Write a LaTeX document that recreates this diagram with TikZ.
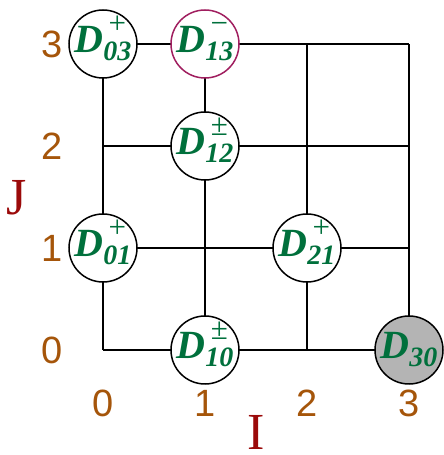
\documentclass[tikz,border=0pt]{standalone}
\usepackage{fontspec}
\setmainfont{Liberation Serif}
\newfontfamily\numfont{Liberation Sans}
\definecolor{dgreen}{RGB}{0,112,60}
\definecolor{dbrown}{RGB}{165,85,10}
\definecolor{dred}{RGB}{155,10,10}
\definecolor{dmag}{RGB}{160,30,95}
\definecolor{dgray}{RGB}{180,180,180}
\newsavebox\subbx
\newcommand\dlab[2]{\smash{\raisebox{-9pt}{%
 \sbox\subbx{\fontsize{28}{28}\selectfont\bfseries\itshape #1}%
 {\fontsize{40}{40}\selectfont\bfseries\itshape D}\raisebox{-8pt}{\usebox\subbx}%
 \hspace{-\wd\subbx}\makebox[\wd\subbx][c]{\raisebox{19pt}{\fontsize{31}{31}\selectfont #2}}}}}
\tikzset{
 gridline/.style={line width=1.5pt, black},
 dnode/.style={circle, draw=black, fill=white, line width=1.5pt, minimum size=68pt, inner sep=0pt, text=dgreen},
 numlab/.style={text=dbrown, font=\numfont\fontsize{38}{38}\selectfont, inner sep=0pt},
 axlab/.style={text=dred, font=\fontsize{52}{52}\selectfont, inner sep=0pt}
}
\begin{document}
\begin{tikzpicture}[x=1pt,y=1pt]
\useasboundingbox (0,0) rectangle (444,455);
% grid coordinates
\foreach \i/\xx in {0/103,1/205,2/307,3/409}{
  \foreach \j/\yy in {0/105,1/207,2/309,3/411}{
    \coordinate (g\i\j) at (\xx,\yy);
  }
}
% grid lines
\foreach \j in {0,1,2,3}{ \draw[gridline] (g0\j) -- (g3\j); }
\foreach \i in {0,1,2,3}{ \draw[gridline] (g\i0) -- (g\i3); }
% nodes
\node[dnode] (D03) at (g03) {\dlab{03}{+}};
\node[dnode, draw=dmag] (D13) at (g13) {\dlab{13}{−}};
\node[dnode] (D12) at (g12) {\dlab{12}{±}};
\node[dnode] (D01) at (g01) {\dlab{01}{+}};
\node[dnode] (D21) at (g21) {\dlab{21}{+}};
\node[dnode] (D10) at (g10) {\dlab{10}{±}};
\node[dnode, fill=dgray] (D30) at (g30) {\dlab{30}{}};
% axis numbers
\node[numlab] (l3) at (52,411) {3};
\node[numlab] (l2) at (52,309) {2};
\node[numlab] (l1) at (52,207) {1};
\node[numlab] (l0) at (52,105) {0};
\node[numlab] (b0) at (103,52) {0};
\node[numlab] (b1) at (205,52) {1};
\node[numlab] (b2) at (307,52) {2};
\node[numlab] (b3) at (409,52) {3};
% axis letters
\node[axlab] (J) at (16.5,257) {J};
\node[axlab] (I) at (256,23) {I};
\end{tikzpicture}
\end{document}
